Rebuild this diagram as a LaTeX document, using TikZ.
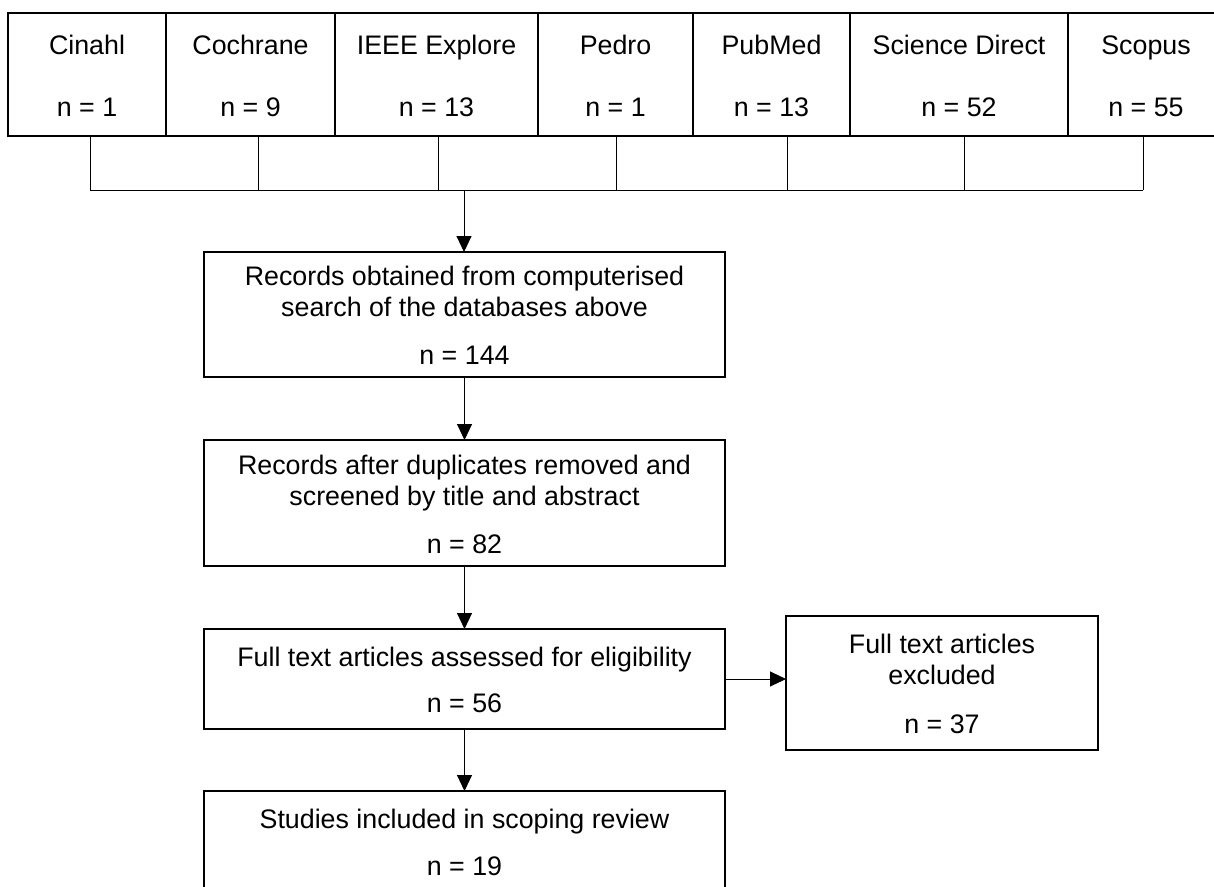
\documentclass[tikz,border=0pt]{standalone}
\usepackage{fontspec}
\setmainfont{Liberation Sans}
\usetikzlibrary{arrows.meta,positioning}

\begin{document}
\begin{tikzpicture}[
    x = 1pt, y = -1pt, % pixel-like units, y downward
    > = {Triangle[length=16pt,width=15pt]}, % arrow head style
    node distance = 63pt, % gap between the main boxes
    link/.style = {draw = black, line width = 1pt}, % thin connector
    ]

    \tikzset{
    box/.style = {
        draw = black,
        line width = 1.8pt,
        fill = white,
        outer sep = 0pt,
        align = center,
        font = \fontsize{26.8}{31}\selectfont,
        text depth = 0pt
    },
    db/.style = {box, minimum height = 123pt, anchor = west}
    }

    \useasboundingbox (0,0) rectangle (1214,886);
    \fill[white] (0,0) rectangle (1214,886);
    \clip (0,0) rectangle (1214,886);

    % databases
    \node[db, minimum width = 158pt] (cinahl) at (8,74.5) {\strut Cinahl\\[31pt]\strut n = 1};
    \node[db, minimum width = 169pt] (cochrane) [right=0pt of cinahl] {\strut Cochrane\\[31pt]\strut n = 9};
    \node[db, minimum width = 203pt] (ieee) [right=0pt of cochrane] {\strut IEEE Explore\\[31pt]\strut n = 13};
    \node[db, minimum width = 155pt] (pedro) [right=0pt of ieee] {\strut Pedro\\[31pt]\strut n = 1};
    \node[db, minimum width = 157pt] (pubmed) [right=0pt of pedro] {\strut PubMed\\[31pt]\strut n = 13};
    \node[db, minimum width = 218pt] (scidir) [right=0pt of pubmed] {\strut Science Direct\\[31pt]\strut n = 52};
    \node[db, minimum width = 156pt] (scopus) [right=0pt of scidir] {\strut Scopus\\[31pt]\strut n = 55};

    % flow
    \node[box, minimum width = 521pt, minimum height = 125pt] (records) at (464.5,314.5)
        {\strut Records obtained from computerised\\\strut search of the databases above\\[17pt]\strut n = 144};
    \node[box, minimum width = 521pt, minimum height = 126pt] (screened) [below=of records]
        {\strut Records after duplicates removed and\\\strut screened by title and abstract\\[17pt]\strut n = 82};
    \node[box, minimum width = 521pt, minimum height = 100pt] (fulltext) [below=of screened]
        {\strut Full text articles assessed for eligibility\\[15pt]\strut n = 56};
    \node[box, minimum width = 521pt, minimum height = 100pt] (included) [below=62pt of fulltext]
        {\strut Studies included in scoping review\\[16pt]\strut n = 19};
    \node[box, minimum width = 312pt, minimum height = 134pt] (excluded) [right=61pt of fulltext, yshift=-4pt]
        {\strut Full text articles\\\strut excluded\\[18pt]\strut n = 37};

    % bus under the databases
    \coordinate (busL) at (90,190);
    \coordinate (busR) at (1143,190);
    \coordinate (busM) at (464,190);
    \foreach \n/\x in {cinahl/90, cochrane/258, ieee/438, pedro/616, pubmed/787, scidir/964, scopus/1143}
        \draw[link] (\n.south -| \x,0) -- (\x,190);
    \draw[link] (busL) -- (busR);

    \draw[link, ->] (busM) -- (busM |- records.north);
    \draw[link, ->] (records) -- (screened);
    \draw[link, ->] (screened) -- (fulltext);
    \draw[link, ->] (fulltext) -- (included);
    \draw[link, ->] (fulltext.east) -- (fulltext.east -| excluded.west);

\end{tikzpicture}
\end{document}
